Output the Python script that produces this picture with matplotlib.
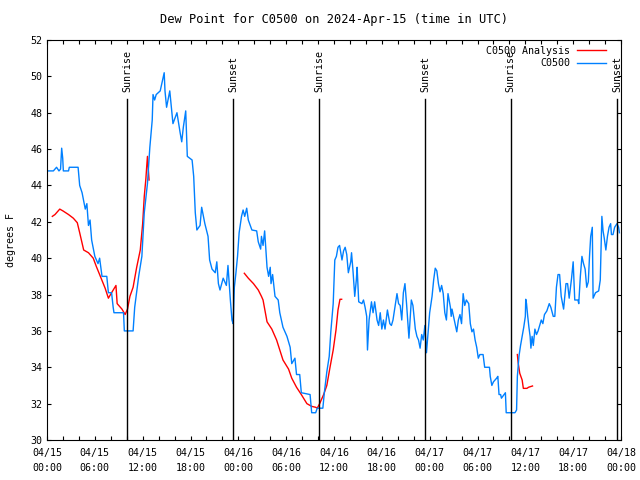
import datetime as dt
import matplotlib
matplotlib.use("Agg")
import matplotlib.pyplot as plt
import matplotlib.dates as mdates

plt.rcParams['font.family'] = ['DejaVu Sans Mono']
plt.rcParams['font.size'] = 7.2

# observed dew point (hours since 2024-04-15 00:00 UTC, degrees F)
obs_h = [0.17, 0.8, 1.2, 1.5, 1.7, 1.84, 1.97, 2.05, 2.7, 2.8, 3.9, 4.1, 4.4, 4.8, 5.0, 5.2,
         5.4, 5.6, 6.0, 6.4, 6.6, 6.9, 7.5, 7.7, 8.1, 8.3, 8.4, 9.6, 9.7, 10.8, 11.0, 11.5,
         11.9, 12.2, 12.6, 12.9, 13.2, 13.3, 13.5, 13.7, 14.2, 14.6, 14.7, 14.8, 15.0, 15.4,
         15.6, 15.8, 16.3, 16.7, 16.9, 17.1, 17.4, 17.6, 18.2, 18.4, 18.6, 18.8, 19.2, 19.4,
         19.8, 20.2, 20.4, 20.7, 21.1, 21.3, 21.5, 21.7, 22.1, 22.5, 22.7, 23.0, 23.2, 23.35,
         23.5, 23.7, 23.9, 24.1, 24.4, 24.6, 24.8, 25.05, 25.25, 25.7, 26.3, 26.5, 26.8, 26.9,
         27.1, 27.3, 27.6, 27.8, 28.0, 28.1, 28.3, 28.6, 29.0, 29.2, 29.6, 30.1, 30.5, 30.7,
         31.1, 31.3, 31.7, 31.9, 33.0, 33.2, 33.7, 33.9, 34.6, 34.8, 35.1, 35.4, 35.6, 35.9,
         36.1, 36.3, 36.5, 36.7, 37.0, 37.2, 37.4, 37.6, 37.8, 38.1, 38.2, 38.4, 38.6, 38.8,
         38.9, 39.1, 39.5, 39.7, 39.9, 40.1, 40.2, 40.4, 40.7, 40.9, 41.1, 41.4, 41.6, 41.8,
         42.0, 42.2, 42.4, 42.7, 43.0, 43.2, 43.4, 43.9, 44.1, 44.3, 44.5, 44.7, 44.9, 45.1,
         45.4, 45.7, 45.9, 46.2, 46.4, 46.6, 46.8, 47.0, 47.2, 47.4, 47.6, 47.8, 48.0, 48.3,
         48.5, 48.7, 48.9, 49.1, 49.3, 49.5, 49.7, 49.9, 50.1, 50.3, 50.6, 50.7, 50.8, 51.4,
         51.6, 51.8, 52.0, 52.2, 52.4, 52.6, 52.9, 53.1, 53.3, 53.5, 53.7, 53.9, 54.1, 54.3,
         54.7, 54.9, 55.5, 55.6, 55.8, 56.0, 56.4, 56.55, 56.7, 56.9, 57.0, 57.5, 57.6, 58.7,
         58.9, 59.0, 59.2, 59.4, 59.6, 59.8, 60.0, 60.05, 60.15, 60.3, 60.45, 60.6, 60.7,
         60.85, 61.0, 61.2, 61.4, 61.6, 62.0, 62.2, 62.4, 62.7, 63.0, 63.2, 63.5, 63.7, 63.9,
         64.1, 64.3, 64.5, 64.8, 64.95, 65.1, 65.3, 65.5, 65.8, 66.0, 66.2, 66.6, 66.7, 66.9,
         67.1, 67.3, 67.5, 67.7, 67.9, 68.05, 68.2, 68.4, 68.5, 68.8, 69.2, 69.4, 69.6, 69.75,
         69.9, 70.1, 70.3, 70.5, 70.7, 70.8, 71.0, 71.2, 71.5, 71.7, 71.8]
obs_v = [44.8, 44.8, 45.0, 44.8, 44.9, 46.05, 45.5, 44.8, 44.8, 45.0, 45.0, 44.0, 43.6, 42.7, 43.0, 41.8,
         42.1, 41.0, 40.1, 39.7, 40.0, 39.0, 39.0, 38.1, 38.1, 37.3, 37.0, 37.0, 36.0, 36.0, 37.3, 39.0,
         40.1, 42.5, 44.1, 46.1, 47.6, 49.0, 48.7, 49.0, 49.2, 50.0, 50.2, 49.2, 48.3, 49.2,
         48.3, 47.4, 48.0, 46.9, 46.4, 47.2, 48.1, 45.6, 45.4, 44.5, 42.5, 41.55, 41.8, 42.8,
         41.9, 41.2, 39.9, 39.4, 39.2, 39.8, 38.6, 38.25, 38.9, 38.5, 39.6, 37.7, 36.6, 36.4,
         38.4, 39.2, 40.1, 41.4, 42.3, 42.65, 42.3, 42.75, 42.1, 41.55, 41.5, 40.9, 40.5, 41.2,
         40.7, 41.5, 39.5, 39.0, 39.5, 38.6, 39.1, 37.9, 37.7, 37.0, 36.2, 35.7, 35.1, 34.2,
         34.5, 33.6, 33.6, 32.6, 32.5, 31.5, 31.5, 31.75, 31.75, 32.65, 33.75, 34.6, 35.95, 37.5,
         39.9, 40.1, 40.6, 40.7, 39.9, 40.4, 40.6, 40.2, 39.2, 39.8, 40.3, 39.2, 37.9, 38.8,
         39.5, 37.6, 37.5, 37.7, 37.3, 36.8, 34.95, 36.6, 37.6, 37.0, 37.6, 36.6, 36.3, 37.0,
         36.1, 36.6, 36.1, 37.15, 36.4, 36.3, 36.6, 38.05, 37.5, 37.4, 36.6, 38.1, 38.6, 37.5,
         35.6, 37.7, 37.4, 36.1, 35.7, 35.5, 35.05, 35.8, 35.5, 36.3, 34.8, 35.9, 37.0, 37.9,
         38.8, 39.45, 39.3, 38.6, 38.15, 38.5, 38.05, 37.0, 36.6, 38.05, 37.3, 36.8, 37.2, 35.95,
         36.6, 36.9, 36.4, 38.05, 37.4, 37.7, 37.5, 36.4, 35.95, 36.1, 35.5, 35.1, 34.5, 34.7,
         34.7, 34.0, 34.0, 33.5, 33.0, 33.2, 33.4, 33.5, 32.5, 32.5, 32.3, 32.6, 31.5, 31.5,
         31.65, 33.5, 34.6, 35.2, 35.7, 36.2, 36.8, 37.74, 37.5, 36.8, 36.2, 35.7, 35.05,
         35.7, 35.2, 36.1, 35.8, 36.0, 36.6, 36.4, 36.9, 37.1, 37.5, 37.3, 36.8, 36.8, 38.4,
         39.1, 39.1, 37.9, 37.2, 37.9, 38.6, 38.6, 37.8, 38.9, 39.8, 37.7, 37.7, 37.5, 39.0,
         40.1, 39.7, 39.4, 38.4, 38.7, 40.1, 41.2, 41.7, 37.8, 38.1, 38.2, 38.8, 42.3, 41.5,
         41.1, 40.45, 41.2, 41.7, 41.9, 41.3, 41.3, 41.7, 41.9, 41.7, 41.4]

# analysis, three separate pieces
ana1_h = [0.67, 1.0, 1.6, 2.0, 2.7, 3.3, 3.8, 4.1, 4.6, 5.2, 5.8, 6.2, 6.6, 7.3, 7.7, 8.1,
          8.65, 8.8, 9.4, 9.8, 10.1, 10.4, 10.8, 11.25, 11.7, 12.0, 12.2, 12.4, 12.5, 12.6, 12.8]
ana1_v = [42.3, 42.4, 42.7, 42.6, 42.4, 42.2, 41.95, 41.4, 40.45, 40.3, 40.0, 39.53, 39.1, 38.34, 37.8, 38.1,
          38.5, 37.5, 37.2, 36.9, 37.2, 37.9, 38.4, 39.5, 40.45, 41.9, 43.4, 44.35, 45.0, 45.6, 44.3]
ana2_h = [24.75, 25.25, 25.9, 26.5, 26.9, 27.1, 27.6, 28.2, 28.8, 29.6, 30.3, 30.7, 31.3, 31.9,
          32.6, 33.2, 33.7, 33.9, 34.2, 34.7, 35.1, 35.5, 35.9, 36.25, 36.5, 36.75, 36.96]
ana2_v = [39.17, 38.9, 38.6, 38.25, 37.9, 37.7, 36.5, 36.1, 35.5, 34.4, 33.9, 33.4, 32.9, 32.5,
          32.0, 31.85, 31.8, 31.75, 32.0, 32.5, 33.0, 34.0, 34.95, 36.05, 37.15, 37.74, 37.74]
ana3_h = [59.0, 59.1, 59.3, 59.6, 59.75, 60.2, 60.4, 60.6, 60.9]
ana3_v = [34.7, 34.25, 33.67, 33.3, 32.84, 32.84, 32.9, 32.93, 32.97]

sun_h = [10.08, 23.38, 34.17, 47.47, 58.14, 71.56]
sun_lbl = ['Sunrise', 'Sunset', 'Sunrise', 'Sunset', 'Sunrise', 'Sunset']

base = dt.datetime(2024, 4, 15)
def to_t(hours):
    return [base + dt.timedelta(hours=h) for h in hours]

C_RED = '#ff0000'
C_BLUE = '#0080ff'

fig = plt.figure(figsize=(6.4, 4.8), dpi=100)
ax = fig.add_axes([47/640, 40/480, 574/640, 400/480])

ax.plot(to_t(ana1_h), ana1_v, color=C_RED, lw=1.0, label='C0500 Analysis')
ax.plot(to_t(ana2_h), ana2_v, color=C_RED, lw=1.0)
ax.plot(to_t(ana3_h), ana3_v, color=C_RED, lw=1.0)
ax.plot(to_t(obs_h), obs_v, color=C_BLUE, lw=1.0, label='C0500')

# sunrise / sunset markers
for t, lbl in zip(to_t(sun_h), sun_lbl):
    ax.plot([t, t], [0, 0.8525], color='black', lw=1.0, transform=ax.get_xaxis_transform())
    ax.text(t, 0.87, lbl, rotation=90, ha='center', va='bottom',
            transform=ax.get_xaxis_transform())

ax.set_xlim(base, base + dt.timedelta(hours=72))
ax.set_ylim(30, 52)
ax.set_yticks(range(30, 53, 2))
ax.xaxis.set_major_locator(mdates.HourLocator(byhour=range(0, 24, 6)))
ax.xaxis.set_minor_locator(mdates.HourLocator(byhour=range(0, 24, 2)))
ax.xaxis.set_major_formatter(mdates.DateFormatter('%m/%d\n%H:%M'))
ax.tick_params(which='both', direction='in', top=True, right=True, length=3.2, width=0.8)
ax.tick_params(axis='x', which='major', pad=6)
fig.canvas.draw()
for lb in ax.get_xticklabels():
    lb.set_linespacing(1.6)
ax.set_ylabel('degrees F', labelpad=10)
ax.set_title('Dew Point for C0500 on 2024-Apr-15 (time in UTC)', pad=12)

leg = ax.legend(loc='upper right', bbox_to_anchor=(1 - 9/574, 1.0), frameon=False,
                markerfirst=False, handlelength=2.9, borderaxespad=0.2,
                labelspacing=0.25, handletextpad=0.7)
for txt in leg.get_texts():
    txt.set_ha('right')
leg._legend_box.align = 'right'

fig.savefig('out.png', dpi=100)
